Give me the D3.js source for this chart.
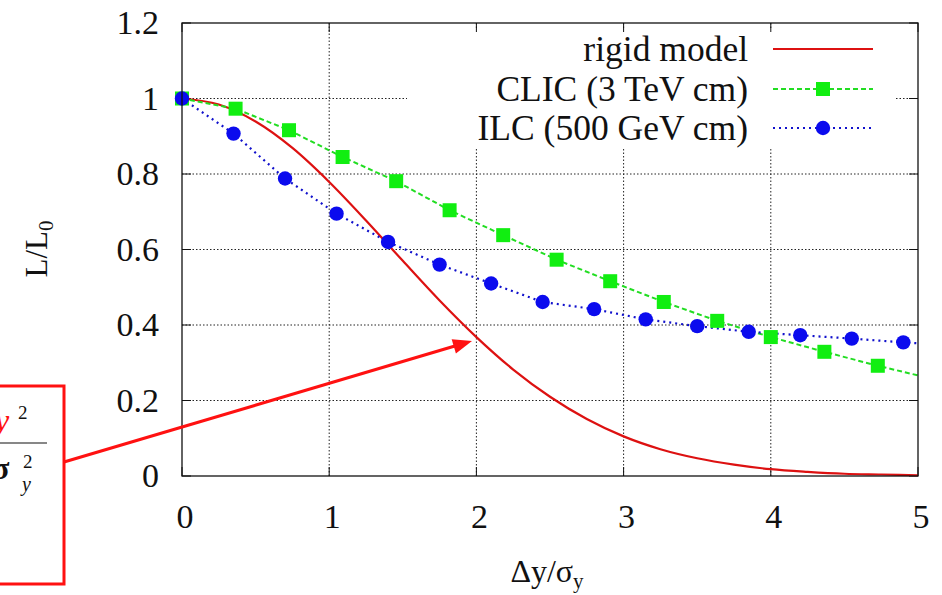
<!DOCTYPE html>
<html>
<head>
<meta charset="utf-8">
<script src="https://cdnjs.cloudflare.com/ajax/libs/d3/7.8.5/d3.min.js"></script>
<style>
  body { margin: 0; background: #fff; }
  text { font-family: "Liberation Serif", "DejaVu Serif", serif; fill: #111; }
</style>
</head>
<body>
<svg width="942" height="595"></svg>
<script>
// values
const rigidX = [0, 0.25, 0.5, 0.75, 1, 1.25, 1.5, 1.75, 2, 2.25, 2.5, 2.75, 3, 3.25, 3.5, 3.75, 4, 4.25, 4.5, 4.75, 5];
const rigidY = [1, 0.984, 0.939, 0.869, 0.779, 0.677, 0.570, 0.465, 0.368, 0.282, 0.210, 0.151, 0.105, 0.071, 0.047, 0.030, 0.018, 0.011, 0.006, 0.004, 0.002];

const clicX = [0, 0.364, 0.727, 1.091, 1.455, 1.818, 2.182, 2.545, 2.909, 3.273, 3.636, 4.0, 4.364, 4.727, 5.091];
const clicY = [1.0, 0.973, 0.916, 0.845, 0.781, 0.704, 0.638, 0.573, 0.516, 0.461, 0.411, 0.368, 0.329, 0.292, 0.258];

const ilcX = [0, 0.35, 0.7, 1.05, 1.4, 1.75, 2.1, 2.45, 2.8, 3.15, 3.5, 3.85, 4.2, 4.55, 4.9, 5.25];
const ilcY = [1.0, 0.907, 0.788, 0.695, 0.620, 0.560, 0.510, 0.461, 0.442, 0.415, 0.397, 0.382, 0.373, 0.364, 0.354, 0.345];

const xTicks = [0, 1, 2, 3, 4, 5];
const yTicks = [0, 0.2, 0.4, 0.6, 0.8, 1, 1.2];
const legendLabels = ["rigid model", "CLIC (3 TeV cm)", "ILC (500 GeV cm)"];

const svg = d3.select("svg");
const margin = { top: 23, right: 24, bottom: 119, left: 182 };
const W = 942, H = 595;
const pw = W - margin.left - margin.right;
const ph = H - margin.top - margin.bottom;

const x = d3.scaleLinear().domain([0, 5]).range([0, pw]);
const y = d3.scaleLinear().domain([0, 1.2]).range([ph, 0]);

const g = svg.append("g").attr("transform", `translate(${margin.left},${margin.top})`);

// grid
g.selectAll(".gx").data(xTicks.slice(1, -1)).join("line")
  .attr("x1", d => x(d)).attr("x2", d => x(d)).attr("y1", 0).attr("y2", ph)
  .attr("stroke", "#222").attr("stroke-width", 1).attr("stroke-dasharray", "1.5,2");
g.selectAll(".gy").data(yTicks.slice(1, -1)).join("line")
  .attr("x1", 0).attr("x2", pw).attr("y1", d => y(d)).attr("y2", d => y(d))
  .attr("stroke", "#222").attr("stroke-width", 1).attr("stroke-dasharray", "1.5,2");

// opaque key area
g.append("rect").attr("x", 225).attr("y", 6).attr("width", 488).attr("height", 118).attr("fill", "#fff");

// ticks (inward, all four sides)
const tl = 9;
xTicks.forEach(t => {
  g.append("line").attr("x1", x(t)).attr("x2", x(t)).attr("y1", ph).attr("y2", ph - tl).attr("stroke", "#111");
  g.append("line").attr("x1", x(t)).attr("x2", x(t)).attr("y1", 0).attr("y2", tl).attr("stroke", "#111");
});
yTicks.forEach(t => {
  g.append("line").attr("x1", 0).attr("x2", tl).attr("y1", y(t)).attr("y2", y(t)).attr("stroke", "#111");
  g.append("line").attr("x1", pw).attr("x2", pw - tl).attr("y1", y(t)).attr("y2", y(t)).attr("stroke", "#111");
});

// tick labels
g.selectAll(".xl").data(xTicks).join("text")
  .attr("x", d => x(d) + 3).attr("y", ph + 52)
  .attr("text-anchor", "middle").attr("font-size", 34)
  .text(d => d);
g.selectAll(".yl").data(yTicks).join("text")
  .attr("x", -23).attr("y", d => y(d) + 11)
  .attr("text-anchor", "end").attr("font-size", 34)
  .text(d => d);

// axis titles
const yt = svg.append("text")
  .attr("transform", "translate(47,249) rotate(-90)")
  .attr("text-anchor", "middle").attr("font-size", 31);
yt.append("tspan").text("L/L");
yt.append("tspan").attr("font-size", 21).attr("dy", 6).text("0");

const xt = svg.append("text")
  .attr("x", 547).attr("y", 582)
  .attr("text-anchor", "middle").attr("font-size", 32);
xt.append("tspan").text("Δy/σ");
xt.append("tspan").attr("font-size", 21).attr("dy", 6).text("y");

// plot clip
svg.append("defs").append("clipPath").attr("id", "clip")
  .append("rect").attr("x", 0).attr("y", -10).attr("width", pw).attr("height", ph + 20);
const plot = g.append("g").attr("clip-path", "url(#clip)");

const line = d3.line().x(d => x(d[0])).y(d => y(d[1]));
const rigid = d3.zip(rigidX, rigidY);
const clic = d3.zip(clicX, clicY);
const ilc = d3.zip(ilcX, ilcY);

plot.append("path").datum(rigid)
  .attr("d", line.curve(d3.curveMonotoneX))
  .attr("fill", "none").attr("stroke", "#dd1111").attr("stroke-width", 2.2);

plot.append("path").datum(clic)
  .attr("d", d3.line().x(d => x(d[0])).y(d => y(d[1])))
  .attr("fill", "none").attr("stroke", "#22dd22").attr("stroke-width", 2).attr("stroke-dasharray", "5,3");

plot.append("path").datum(ilc)
  .attr("d", d3.line().x(d => x(d[0])).y(d => y(d[1])))
  .attr("fill", "none").attr("stroke", "#1111cc").attr("stroke-width", 2.2).attr("stroke-dasharray", "2,4");

const sq = 14;
g.selectAll(".sq").data(clic.filter(d => d[0] <= 5)).join("rect")
  .attr("x", d => x(d[0]) - sq / 2).attr("y", d => y(d[1]) - sq / 2)
  .attr("width", sq).attr("height", sq).attr("fill", "#11ee11");

g.selectAll(".ci").data(ilc.filter(d => d[0] <= 5)).join("circle")
  .attr("cx", d => x(d[0])).attr("cy", d => y(d[1])).attr("r", 7.2)
  .attr("fill", "#0b0bee");

// frame
g.append("rect").attr("width", pw).attr("height", ph)
  .attr("fill", "none").attr("stroke", "#111").attr("stroke-width", 1.3);

// legend
const lg = g.append("g");
const rows = [26, 66, 105];
legendLabels.forEach((lab, i) => {
  lg.append("text").attr("x", 566).attr("y", rows[i] + 12)
    .attr("text-anchor", "end").attr("font-size", 35.5).text(lab);
});
lg.append("line").attr("x1", 591).attr("x2", 691).attr("y1", rows[0]).attr("y2", rows[0])
  .attr("stroke", "#dd1111").attr("stroke-width", 2.2);
lg.append("line").attr("x1", 591).attr("x2", 691).attr("y1", rows[1]).attr("y2", rows[1])
  .attr("stroke", "#22dd22").attr("stroke-width", 2).attr("stroke-dasharray", "5,3");
lg.append("rect").attr("x", 641 - sq / 2).attr("y", rows[1] - sq / 2).attr("width", sq).attr("height", sq).attr("fill", "#11ee11");
lg.append("line").attr("x1", 591).attr("x2", 691).attr("y1", rows[2]).attr("y2", rows[2])
  .attr("stroke", "#1111cc").attr("stroke-width", 2.2).attr("stroke-dasharray", "2,4");
lg.append("circle").attr("cx", 641).attr("cy", rows[2]).attr("r", 7.2).attr("fill", "#0b0bee");

// annotation box (cut off at the left edge, as in the source)
const ann = svg.append("g");
ann.append("rect").attr("x", -100).attr("y", 386).attr("width", 164).attr("height", 198)
  .attr("fill", "#fff").attr("stroke", "#ff1111").attr("stroke-width", 3);
ann.append("text").attr("x", -5).attr("y", 431).attr("font-size", 32)
  .attr("font-style", "italic").style("fill", "#ff1111").text("y");
ann.append("text").attr("x", 18).attr("y", 419).attr("font-size", 19).text("2");
ann.append("line").attr("x1", -10).attr("x2", 47).attr("y1", 443).attr("y2", 443)
  .attr("stroke", "#111").attr("stroke-width", 1.2);
ann.append("text").attr("x", -8).attr("y", 479).attr("font-size", 32)
  .attr("font-weight", "bold").text("σ");
ann.append("text").attr("x", 23).attr("y", 468).attr("font-size", 19).text("2");
ann.append("text").attr("x", 22).attr("y", 491).attr("font-size", 20)
  .attr("font-style", "italic").text("y");

// arrow
const p0 = [64, 462], p1 = [472, 341];
const dx = p1[0] - p0[0], dy = p1[1] - p0[1];
const len = Math.hypot(dx, dy), ux = dx / len, uy = dy / len;
const hl = 19, hw = 7.5;
const bx = p1[0] - ux * hl, by = p1[1] - uy * hl;
ann.append("line").attr("x1", p0[0]).attr("y1", p0[1]).attr("x2", bx + ux * 2).attr("y2", by + uy * 2)
  .attr("stroke", "#ff1111").attr("stroke-width", 3.2);
ann.append("polygon")
  .attr("points", [[p1[0], p1[1]], [bx - uy * hw, by + ux * hw], [bx + uy * hw, by - ux * hw]].map(p => p.join(",")).join(" "))
  .attr("fill", "#ff1111");
</script>
</body>
</html>
